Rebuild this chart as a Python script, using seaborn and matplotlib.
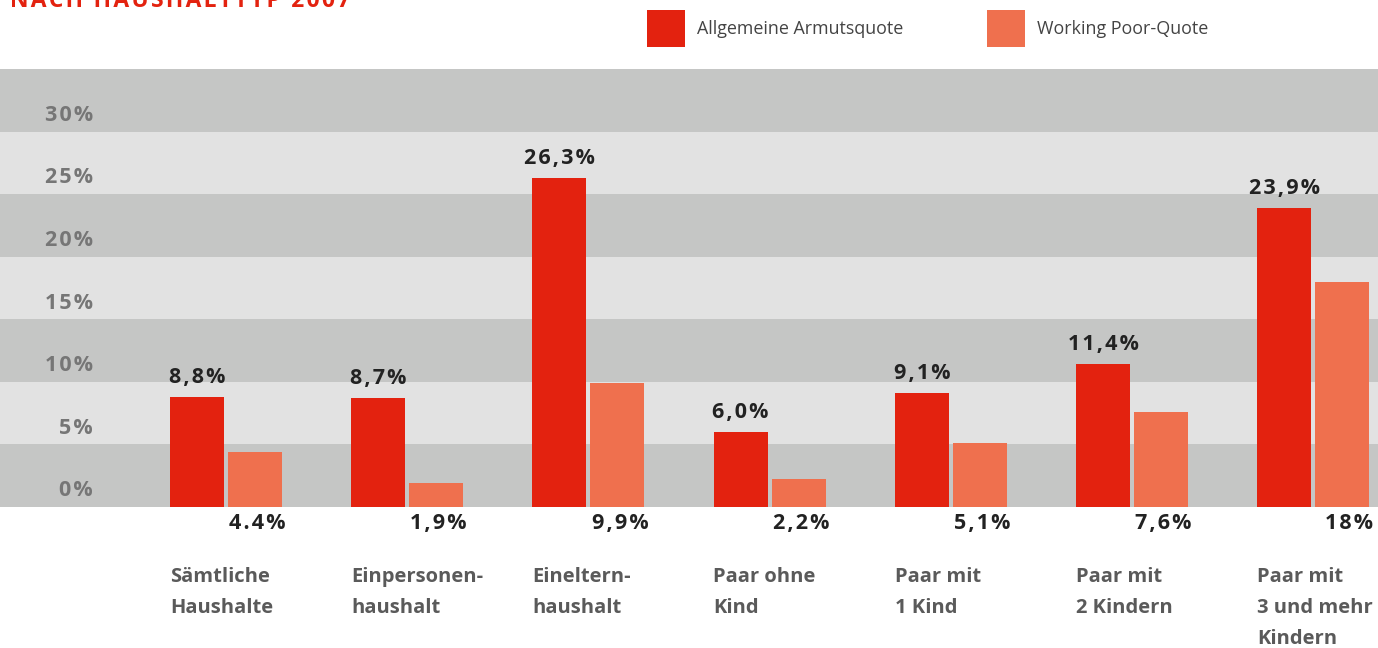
import pandas as pd
import matplotlib.pyplot as plt
import seaborn as sns
from matplotlib.patches import Rectangle

# Daten
kategorien = ['Sämtliche\nHaushalte', 'Einpersonen-\nhaushalt', 'Eineltern-\nhaushalt',
              'Paar ohne\nKind', 'Paar mit\n1 Kind', 'Paar mit\n2 Kindern', 'Paar mit\n3 und mehr\nKindern']
armut = [8.8, 8.7, 26.3, 6.0, 9.1, 11.4, 23.9]
working_poor = [4.4, 1.9, 9.9, 2.2, 5.1, 7.6, 18.0]
armut_labels = ['8,8%', '8,7%', '26,3%', '6,0%', '9,1%', '11,4%', '23,9%']
wp_labels = ['4.4%', '1,9%', '9,9%', '2,2%', '5,1%', '7,6%', '18%']
y_ticks = [0, 5, 10, 15, 20, 25, 30]
serien = ['Allgemeine Armutsquote', 'Working Poor-Quote']

ROT = '#e3220f'
ORANGE = '#ef704e'
DUNKEL = '#c5c6c5'
HELL = '#e2e2e2'

df = pd.DataFrame({
    'kategorie': kategorien * 2,
    'serie': [serien[0]] * 7 + [serien[1]] * 7,
    'wert': armut + working_poor,
})

def sperren(s):
    # Buchstaben leicht auseinanderziehen (hair space)
    return '\u200a'.join(s)

FONT = ['Open Sans', 'DejaVu Sans']

sns.set_theme(style='white')
plt.rcParams['font.family'] = FONT

fig = plt.figure(figsize=(13.78, 6.48), dpi=100)
ax = fig.add_axes([0, (648 - 507) / 648, 1, (507 - 69) / 648])

# Hintergrundstreifen
for k in range(7):
    ax.axhspan(k * 5, k * 5 + 5, color=DUNKEL if k % 2 == 0 else HELL, zorder=0, lw=0)

sns.barplot(data=df, x='kategorie', y='wert', hue='serie', hue_order=serien,
            palette=[ROT, ORANGE], width=0.64, gap=0.069, saturation=1,
            linewidth=0, edgecolor='none', legend=False, ax=ax, zorder=2)

ax.set_xlim(-226 / 181.2, (1378 - 226) / 181.2)
ax.set_ylim(0, 35)
ax.set_xlabel('')
ax.set_ylabel('')
ax.set_xticks([])
ax.set_yticks([])
for sp in ax.spines.values():
    sp.set_visible(False)

# y-Beschriftung
for t in y_ticks:
    ax.text(-0.734, t + 1.3, sperren(f'{t}%'), ha='right', va='center',
            fontsize=15.5, fontweight='bold', color='#767676', family=FONT)

# Werte
for i in range(len(kategorien)):
    ax.text(i - 0.16, armut[i] + 1.55, sperren(armut_labels[i]), ha='center', va='center',
            fontsize=15.5, fontweight='bold', color='#222222', family=FONT, clip_on=False)
    ax.text(i + 0.33, -1.35, sperren(wp_labels[i]), ha='right', va='center',
            fontsize=15.5, fontweight='bold', color='#222222', family=FONT, clip_on=False)
    ax.text(i - 0.31, -4.8, kategorien[i], ha='left', va='top', linespacing=1.74,
            fontsize=14.5, fontweight='bold', color='#5a5a5a', family=FONT, clip_on=False)

# Titel (oben abgeschnitten, wie im Original)
fig.text(10 / 1378, 0.998, sperren('NACH HAUSHALTTYP 2007'), ha='left', va='center',
         fontsize=16.5, fontweight='bold', color=ROT, family=FONT)

# Legende
W, H = 1378, 648
for x0, farbe, name in [(647, ROT, serien[0]), (987, ORANGE, serien[1])]:
    fig.add_artist(Rectangle((x0 / W, 1 - 47 / H), 38 / W, 37 / H,
                             transform=fig.transFigure, color=farbe, lw=0))
    fig.text((x0 + 50) / W, 1 - 29 / H, name, ha='left', va='center',
             fontsize=12.9, color='#444444', family=FONT)

plt.savefig('out.png', dpi=100)
